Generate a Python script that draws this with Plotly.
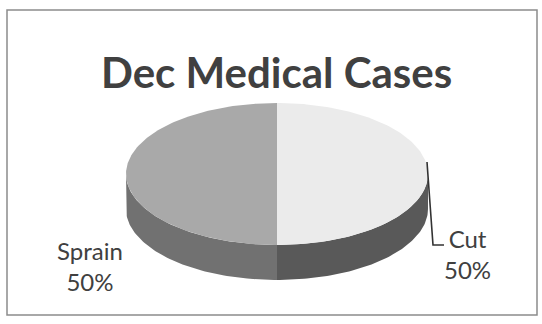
import numpy as np
import plotly.graph_objects as go

# ---- data ----
categories = ["Cut", "Sprain"]
values = [1, 1]
title_text = "Dec Medical Cases"

# ---- styles ----
top_colors = ["#ebebeb", "#a9a9a9"]
side_colors = ["#595959", "#717171"]
text_color = "#404040"

W, H = 542, 324
CX, CY, RX, RY, DEPTH = 277, 174, 151, 71, 35


def pt(theta_deg, dy=0.0):
    t = np.radians(theta_deg)
    return CX + RX * np.sin(t), CY - RY * np.cos(t) + dy


total = float(sum(values))
fracs = [v / total for v in values]
angles = []
start = 0.0
for f in fracs:
    angles.append((start, start + 360.0 * f))
    start += 360.0 * f

fig = go.Figure()

# sides (front-facing portion: 90..270 deg clockwise from top)
for (a0, a1), col in zip(angles, side_colors):
    s0, s1 = max(a0, 90.0), min(a1, 270.0)
    if s1 <= s0:
        continue
    th = np.linspace(s0, s1, 80)
    xt, yt = pt(th)
    xb, yb = pt(th[::-1], DEPTH)
    xs = np.concatenate([xt, xb, xt[:1]])
    ys = np.concatenate([yt, yb, yt[:1]])
    fig.add_trace(go.Scatter(x=xs, y=ys, mode="lines", fill="toself",
                             fillcolor=col, line=dict(width=0, color=col),
                             hoverinfo="skip", showlegend=False))

# tops
for (a0, a1), col in zip(angles, top_colors):
    th = np.linspace(a0, a1, 160)
    xa, ya = pt(th)
    xs = np.concatenate([[CX], xa, [CX]])
    ys = np.concatenate([[CY], ya, [CY]])
    fig.add_trace(go.Scatter(x=xs, y=ys, mode="lines", fill="toself",
                             fillcolor=col, line=dict(width=0, color=col),
                             hoverinfo="skip", showlegend=False))

# leader line for Cut label
fig.add_trace(go.Scatter(x=[427, 433, 444], y=[162, 245, 245], mode="lines",
                         line=dict(color="#333333", width=1.6),
                         hoverinfo="skip", showlegend=False))

annotations = [
    dict(x=276, y=72, text="<b>%s</b>" % title_text, showarrow=False,
         xanchor="center", yanchor="middle",
         font=dict(family="Lato", size=42, color=text_color)),
]
label_pos = {"Cut": (467, 254), "Sprain": (90, 266)}
for c, f in zip(categories, fracs):
    lx, ly = label_pos[c]
    annotations.append(dict(x=lx, y=ly, text="%s<br>%d%%" % (c, round(f * 100)),
                            showarrow=False, xanchor="center", yanchor="middle",
                            align="center",
                            font=dict(family="Lato", size=24, color=text_color)))

fig.update_layout(
    width=W, height=H, autosize=False,
    margin=dict(l=0, r=0, t=0, b=0),
    paper_bgcolor="white", plot_bgcolor="white",
    xaxis=dict(range=[0, W], visible=False, fixedrange=True),
    yaxis=dict(range=[H, 0], visible=False, fixedrange=True),
    annotations=annotations,
    shapes=[dict(type="rect", xref="x", yref="y", x0=7, x1=537, y0=10, y1=315,
                 line=dict(color="#8c8c8c", width=1.5), fillcolor="rgba(0,0,0,0)",
                 layer="below")],
)

fig.write_html("out.html")
